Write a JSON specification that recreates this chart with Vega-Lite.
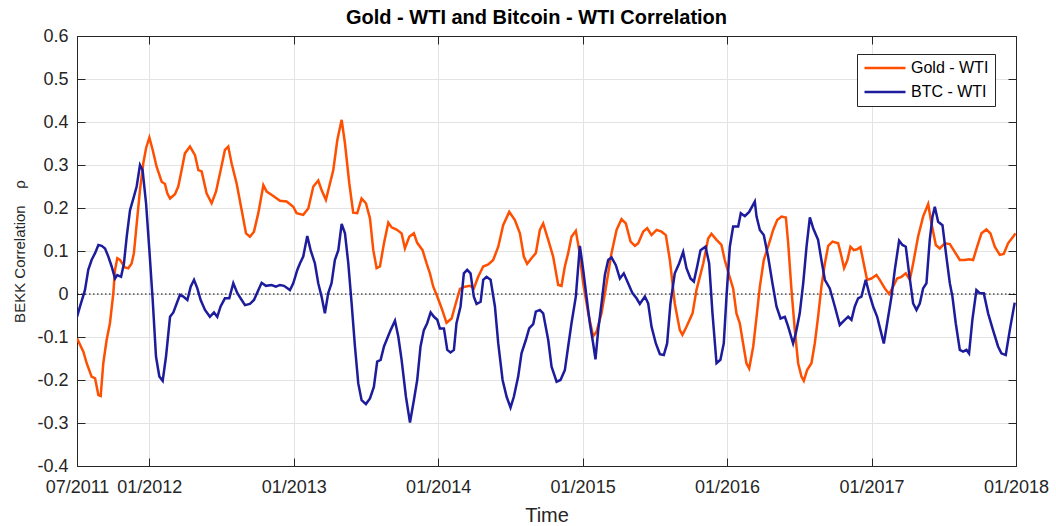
{
"$schema":"https://vega.github.io/schema/vega-lite/v6.json",
"width":939,"height":430,
"autosize":{"type":"none"},
"padding":{"left":77,"top":36,"right":40,"bottom":60},
"background":"white",
"config":{"font":"Liberation Sans","view":{"stroke":null},
 "axis":{"domainColor":"#262626","tickColor":"#262626","labelColor":"#262626","titleColor":"#262626","labelFont":"Liberation Sans","titleFont":"Liberation Sans","gridColor":"#e3e3e3","domainWidth":1,"tickWidth":1}},
"title":{"text":"Gold - WTI and Bitcoin - WTI Correlation","fontSize":20,"fontWeight":"bold","font":"Liberation Sans","color":"black","anchor":"middle","offset":-1,"dx":-10},
"datasets":{
"zero":[{"a":2011.5,"b":2018,"z":0}],
"series":[
{"s":"Gold - WTI","t":2011.500,"v":-0.103},{"s":"Gold - WTI","t":2011.544,"v":-0.134},{"s":"Gold - WTI","t":2011.567,"v":-0.161},{"s":"Gold - WTI","t":2011.601,"v":-0.192},{"s":"Gold - WTI","t":2011.625,"v":-0.196},{"s":"Gold - WTI","t":2011.648,"v":-0.235},{"s":"Gold - WTI","t":2011.664,"v":-0.237},{"s":"Gold - WTI","t":2011.682,"v":-0.161},{"s":"Gold - WTI","t":2011.705,"v":-0.107},{"s":"Gold - WTI","t":2011.728,"v":-0.068},
{"s":"Gold - WTI","t":2011.751,"v":0},{"s":"Gold - WTI","t":2011.763,"v":0.056},{"s":"Gold - WTI","t":2011.779,"v":0.083},{"s":"Gold - WTI","t":2011.798,"v":0.079},{"s":"Gold - WTI","t":2011.832,"v":0.062},{"s":"Gold - WTI","t":2011.855,"v":0.060},{"s":"Gold - WTI","t":2011.878,"v":0.071},{"s":"Gold - WTI","t":2011.894,"v":0.095},{"s":"Gold - WTI","t":2011.918,"v":0.18},{"s":"Gold - WTI","t":2011.936,"v":0.242},
{"s":"Gold - WTI","t":2011.959,"v":0.304},{"s":"Gold - WTI","t":2011.978,"v":0.339},{"s":"Gold - WTI","t":2012.001,"v":0.364},{"s":"Gold - WTI","t":2012.024,"v":0.335},{"s":"Gold - WTI","t":2012.051,"v":0.296},{"s":"Gold - WTI","t":2012.086,"v":0.261},{"s":"Gold - WTI","t":2012.109,"v":0.256},{"s":"Gold - WTI","t":2012.125,"v":0.234},{"s":"Gold - WTI","t":2012.144,"v":0.222},{"s":"Gold - WTI","t":2012.178,"v":0.232},
{"s":"Gold - WTI","t":2012.201,"v":0.25},{"s":"Gold - WTI","t":2012.224,"v":0.288},{"s":"Gold - WTI","t":2012.247,"v":0.327},{"s":"Gold - WTI","t":2012.282,"v":0.343},{"s":"Gold - WTI","t":2012.317,"v":0.323},{"s":"Gold - WTI","t":2012.340,"v":0.288},{"s":"Gold - WTI","t":2012.363,"v":0.285},{"s":"Gold - WTI","t":2012.397,"v":0.234},{"s":"Gold - WTI","t":2012.432,"v":0.211},{"s":"Gold - WTI","t":2012.462,"v":0.238},
{"s":"Gold - WTI","t":2012.490,"v":0.281},{"s":"Gold - WTI","t":2012.524,"v":0.335},{"s":"Gold - WTI","t":2012.547,"v":0.343},{"s":"Gold - WTI","t":2012.570,"v":0.304},{"s":"Gold - WTI","t":2012.605,"v":0.257},{"s":"Gold - WTI","t":2012.640,"v":0.195},{"s":"Gold - WTI","t":2012.670,"v":0.141},{"s":"Gold - WTI","t":2012.697,"v":0.133},{"s":"Gold - WTI","t":2012.725,"v":0.145},{"s":"Gold - WTI","t":2012.755,"v":0.188},
{"s":"Gold - WTI","t":2012.790,"v":0.253},{"s":"Gold - WTI","t":2012.813,"v":0.238},{"s":"Gold - WTI","t":2012.859,"v":0.228},{"s":"Gold - WTI","t":2012.905,"v":0.217},{"s":"Gold - WTI","t":2012.951,"v":0.215},{"s":"Gold - WTI","t":2012.997,"v":0.203},{"s":"Gold - WTI","t":2013.020,"v":0.188},{"s":"Gold - WTI","t":2013.066,"v":0.184},{"s":"Gold - WTI","t":2013.101,"v":0.199},{"s":"Gold - WTI","t":2013.136,"v":0.25},
{"s":"Gold - WTI","t":2013.170,"v":0.264},{"s":"Gold - WTI","t":2013.193,"v":0.242},{"s":"Gold - WTI","t":2013.223,"v":0.219},{"s":"Gold - WTI","t":2013.251,"v":0.257},{"s":"Gold - WTI","t":2013.274,"v":0.288},{"s":"Gold - WTI","t":2013.302,"v":0.358},{"s":"Gold - WTI","t":2013.332,"v":0.405},{"s":"Gold - WTI","t":2013.355,"v":0.350},{"s":"Gold - WTI","t":2013.385,"v":0.257},{"s":"Gold - WTI","t":2013.412,"v":0.189},
{"s":"Gold - WTI","t":2013.440,"v":0.188},{"s":"Gold - WTI","t":2013.470,"v":0.222},{"s":"Gold - WTI","t":2013.500,"v":0.211},{"s":"Gold - WTI","t":2013.528,"v":0.176},{"s":"Gold - WTI","t":2013.551,"v":0.102},{"s":"Gold - WTI","t":2013.574,"v":0.060},{"s":"Gold - WTI","t":2013.597,"v":0.064},{"s":"Gold - WTI","t":2013.625,"v":0.118},{"s":"Gold - WTI","t":2013.655,"v":0.166},{"s":"Gold - WTI","t":2013.678,"v":0.155},
{"s":"Gold - WTI","t":2013.712,"v":0.150},{"s":"Gold - WTI","t":2013.747,"v":0.141},{"s":"Gold - WTI","t":2013.770,"v":0.106},{"s":"Gold - WTI","t":2013.800,"v":0.133},{"s":"Gold - WTI","t":2013.832,"v":0.141},{"s":"Gold - WTI","t":2013.855,"v":0.119},{"s":"Gold - WTI","t":2013.892,"v":0.102},{"s":"Gold - WTI","t":2013.920,"v":0.071},{"s":"Gold - WTI","t":2013.943,"v":0.048},{"s":"Gold - WTI","t":2013.966,"v":0.017},
{"s":"Gold - WTI","t":2013.994,"v":-0.006},{"s":"Gold - WTI","t":2014.024,"v":-0.033},{"s":"Gold - WTI","t":2014.058,"v":-0.067},{"s":"Gold - WTI","t":2014.093,"v":-0.057},{"s":"Gold - WTI","t":2014.116,"v":-0.029},{"s":"Gold - WTI","t":2014.151,"v":0.012},{"s":"Gold - WTI","t":2014.185,"v":0.017},{"s":"Gold - WTI","t":2014.220,"v":0.019},{"s":"Gold - WTI","t":2014.247,"v":0.013},{"s":"Gold - WTI","t":2014.277,"v":0.040},
{"s":"Gold - WTI","t":2014.312,"v":0.064},{"s":"Gold - WTI","t":2014.347,"v":0.069},{"s":"Gold - WTI","t":2014.381,"v":0.079},{"s":"Gold - WTI","t":2014.416,"v":0.110},{"s":"Gold - WTI","t":2014.450,"v":0.160},{"s":"Gold - WTI","t":2014.492,"v":0.191},{"s":"Gold - WTI","t":2014.531,"v":0.172},{"s":"Gold - WTI","t":2014.566,"v":0.141},{"s":"Gold - WTI","t":2014.593,"v":0.087},{"s":"Gold - WTI","t":2014.616,"v":0.070},
{"s":"Gold - WTI","t":2014.646,"v":0.083},{"s":"Gold - WTI","t":2014.676,"v":0.095},{"s":"Gold - WTI","t":2014.704,"v":0.149},{"s":"Gold - WTI","t":2014.727,"v":0.164},{"s":"Gold - WTI","t":2014.762,"v":0.126},{"s":"Gold - WTI","t":2014.796,"v":0.087},{"s":"Gold - WTI","t":2014.831,"v":0.021},{"s":"Gold - WTI","t":2014.854,"v":0.019},{"s":"Gold - WTI","t":2014.877,"v":0.064},{"s":"Gold - WTI","t":2014.900,"v":0.095},
{"s":"Gold - WTI","t":2014.923,"v":0.133},{"s":"Gold - WTI","t":2014.953,"v":0.147},{"s":"Gold - WTI","t":2014.976,"v":0.102},{"s":"Gold - WTI","t":2015.004,"v":0.025},{"s":"Gold - WTI","t":2015.039,"v":-0.045},{"s":"Gold - WTI","t":2015.073,"v":-0.098},{"s":"Gold - WTI","t":2015.096,"v":-0.088},{"s":"Gold - WTI","t":2015.131,"v":-0.045},{"s":"Gold - WTI","t":2015.166,"v":0.025},{"s":"Gold - WTI","t":2015.200,"v":0.095},
{"s":"Gold - WTI","t":2015.235,"v":0.149},{"s":"Gold - WTI","t":2015.269,"v":0.174},{"s":"Gold - WTI","t":2015.299,"v":0.164},{"s":"Gold - WTI","t":2015.332,"v":0.122},{"s":"Gold - WTI","t":2015.362,"v":0.112},{"s":"Gold - WTI","t":2015.385,"v":0.118},{"s":"Gold - WTI","t":2015.419,"v":0.145},{"s":"Gold - WTI","t":2015.447,"v":0.153},{"s":"Gold - WTI","t":2015.477,"v":0.137},{"s":"Gold - WTI","t":2015.512,"v":0.149},
{"s":"Gold - WTI","t":2015.546,"v":0.145},{"s":"Gold - WTI","t":2015.576,"v":0.137},{"s":"Gold - WTI","t":2015.604,"v":0.079},{"s":"Gold - WTI","t":2015.638,"v":-0.022},{"s":"Gold - WTI","t":2015.673,"v":-0.084},{"s":"Gold - WTI","t":2015.691,"v":-0.095},{"s":"Gold - WTI","t":2015.719,"v":-0.076},{"s":"Gold - WTI","t":2015.761,"v":-0.045},{"s":"Gold - WTI","t":2015.788,"v":0.009},{"s":"Gold - WTI","t":2015.835,"v":0.071},
{"s":"Gold - WTI","t":2015.869,"v":0.129},{"s":"Gold - WTI","t":2015.892,"v":0.140},{"s":"Gold - WTI","t":2015.927,"v":0.126},{"s":"Gold - WTI","t":2015.961,"v":0.114},{"s":"Gold - WTI","t":2015.984,"v":0.079},{"s":"Gold - WTI","t":2016.014,"v":0.044},{"s":"Gold - WTI","t":2016.042,"v":0.013},{"s":"Gold - WTI","t":2016.065,"v":-0.045},{"s":"Gold - WTI","t":2016.088,"v":-0.068},{"s":"Gold - WTI","t":2016.111,"v":-0.115},
{"s":"Gold - WTI","t":2016.134,"v":-0.161},{"s":"Gold - WTI","t":2016.153,"v":-0.173},{"s":"Gold - WTI","t":2016.181,"v":-0.122},{"s":"Gold - WTI","t":2016.204,"v":-0.053},{"s":"Gold - WTI","t":2016.227,"v":0.017},{"s":"Gold - WTI","t":2016.254,"v":0.079},{"s":"Gold - WTI","t":2016.291,"v":0.118},{"s":"Gold - WTI","t":2016.319,"v":0.149},{"s":"Gold - WTI","t":2016.347,"v":0.172},{"s":"Gold - WTI","t":2016.377,"v":0.180},
{"s":"Gold - WTI","t":2016.407,"v":0.178},{"s":"Gold - WTI","t":2016.423,"v":0.118},{"s":"Gold - WTI","t":2016.446,"v":0.009},{"s":"Gold - WTI","t":2016.469,"v":-0.084},{"s":"Gold - WTI","t":2016.492,"v":-0.161},{"s":"Gold - WTI","t":2016.515,"v":-0.192},{"s":"Gold - WTI","t":2016.531,"v":-0.202},{"s":"Gold - WTI","t":2016.554,"v":-0.177},{"s":"Gold - WTI","t":2016.584,"v":-0.161},{"s":"Gold - WTI","t":2016.607,"v":-0.115},
{"s":"Gold - WTI","t":2016.630,"v":-0.053},{"s":"Gold - WTI","t":2016.653,"v":0.017},{"s":"Gold - WTI","t":2016.677,"v":0.071},{"s":"Gold - WTI","t":2016.700,"v":0.112},{"s":"Gold - WTI","t":2016.730,"v":0.122},{"s":"Gold - WTI","t":2016.769,"v":0.118},{"s":"Gold - WTI","t":2016.792,"v":0.087},{"s":"Gold - WTI","t":2016.810,"v":0.060},{"s":"Gold - WTI","t":2016.833,"v":0.079},{"s":"Gold - WTI","t":2016.854,"v":0.110},
{"s":"Gold - WTI","t":2016.877,"v":0.102},{"s":"Gold - WTI","t":2016.900,"v":0.104},{"s":"Gold - WTI","t":2016.923,"v":0.109},{"s":"Gold - WTI","t":2016.946,"v":0.071},{"s":"Gold - WTI","t":2016.969,"v":0.033},{"s":"Gold - WTI","t":2016.999,"v":0.036},{"s":"Gold - WTI","t":2017.034,"v":0.044},{"s":"Gold - WTI","t":2017.057,"v":0.033},{"s":"Gold - WTI","t":2017.092,"v":0.013},{"s":"Gold - WTI","t":2017.122,"v":0},
{"s":"Gold - WTI","t":2017.149,"v":0.017},{"s":"Gold - WTI","t":2017.177,"v":0.036},{"s":"Gold - WTI","t":2017.207,"v":0.040},{"s":"Gold - WTI","t":2017.237,"v":0.048},{"s":"Gold - WTI","t":2017.265,"v":0.033},{"s":"Gold - WTI","t":2017.288,"v":0.071},{"s":"Gold - WTI","t":2017.322,"v":0.133},{"s":"Gold - WTI","t":2017.357,"v":0.180},{"s":"Gold - WTI","t":2017.392,"v":0.209},{"s":"Gold - WTI","t":2017.415,"v":0.164},
{"s":"Gold - WTI","t":2017.445,"v":0.114},{"s":"Gold - WTI","t":2017.472,"v":0.106},{"s":"Gold - WTI","t":2017.507,"v":0.118},{"s":"Gold - WTI","t":2017.542,"v":0.116},{"s":"Gold - WTI","t":2017.576,"v":0.098},{"s":"Gold - WTI","t":2017.611,"v":0.079},{"s":"Gold - WTI","t":2017.645,"v":0.079},{"s":"Gold - WTI","t":2017.675,"v":0.081},{"s":"Gold - WTI","t":2017.703,"v":0.079},{"s":"Gold - WTI","t":2017.731,"v":0.110},
{"s":"Gold - WTI","t":2017.761,"v":0.141},{"s":"Gold - WTI","t":2017.795,"v":0.150},{"s":"Gold - WTI","t":2017.823,"v":0.141},{"s":"Gold - WTI","t":2017.853,"v":0.110},{"s":"Gold - WTI","t":2017.888,"v":0.091},{"s":"Gold - WTI","t":2017.915,"v":0.093},{"s":"Gold - WTI","t":2017.945,"v":0.118},{"s":"Gold - WTI","t":2017.980,"v":0.133},{"s":"Gold - WTI","t":2017.996,"v":0.141},
{"s":"BTC - WTI","t":2011.500,"v":-0.053},{"s":"BTC - WTI","t":2011.521,"v":-0.029},{"s":"BTC - WTI","t":2011.555,"v":0.009},{"s":"BTC - WTI","t":2011.578,"v":0.056},{"s":"BTC - WTI","t":2011.601,"v":0.079},{"s":"BTC - WTI","t":2011.625,"v":0.095},{"s":"BTC - WTI","t":2011.648,"v":0.114},{"s":"BTC - WTI","t":2011.671,"v":0.112},{"s":"BTC - WTI","t":2011.694,"v":0.106},{"s":"BTC - WTI","t":2011.717,"v":0.087},
{"s":"BTC - WTI","t":2011.740,"v":0.064},{"s":"BTC - WTI","t":2011.763,"v":0.036},{"s":"BTC - WTI","t":2011.779,"v":0.044},{"s":"BTC - WTI","t":2011.805,"v":0.040},{"s":"BTC - WTI","t":2011.825,"v":0.071},{"s":"BTC - WTI","t":2011.844,"v":0.133},{"s":"BTC - WTI","t":2011.867,"v":0.195},{"s":"BTC - WTI","t":2011.890,"v":0.222},{"s":"BTC - WTI","t":2011.913,"v":0.250},{"s":"BTC - WTI","t":2011.936,"v":0.300},
{"s":"BTC - WTI","t":2011.954,"v":0.288},{"s":"BTC - WTI","t":2011.978,"v":0.211},{"s":"BTC - WTI","t":2012.001,"v":0.102},{"s":"BTC - WTI","t":2012.024,"v":-0.014},{"s":"BTC - WTI","t":2012.047,"v":-0.146},{"s":"BTC - WTI","t":2012.070,"v":-0.192},{"s":"BTC - WTI","t":2012.093,"v":-0.202},{"s":"BTC - WTI","t":2012.116,"v":-0.146},{"s":"BTC - WTI","t":2012.144,"v":-0.053},{"s":"BTC - WTI","t":2012.167,"v":-0.043},
{"s":"BTC - WTI","t":2012.190,"v":-0.022},{"s":"BTC - WTI","t":2012.213,"v":-0.002},{"s":"BTC - WTI","t":2012.236,"v":-0.006},{"s":"BTC - WTI","t":2012.264,"v":-0.014},{"s":"BTC - WTI","t":2012.287,"v":0.017},{"s":"BTC - WTI","t":2012.310,"v":0.033},{"s":"BTC - WTI","t":2012.333,"v":0.013},{"s":"BTC - WTI","t":2012.356,"v":-0.014},{"s":"BTC - WTI","t":2012.386,"v":-0.037},{"s":"BTC - WTI","t":2012.420,"v":-0.053},
{"s":"BTC - WTI","t":2012.448,"v":-0.043},{"s":"BTC - WTI","t":2012.471,"v":-0.053},{"s":"BTC - WTI","t":2012.494,"v":-0.029},{"s":"BTC - WTI","t":2012.524,"v":-0.010},{"s":"BTC - WTI","t":2012.554,"v":-0.010},{"s":"BTC - WTI","t":2012.582,"v":0.025},{"s":"BTC - WTI","t":2012.610,"v":0.002},{"s":"BTC - WTI","t":2012.640,"v":-0.014},{"s":"BTC - WTI","t":2012.663,"v":-0.026},{"s":"BTC - WTI","t":2012.697,"v":-0.023},
{"s":"BTC - WTI","t":2012.725,"v":-0.014},{"s":"BTC - WTI","t":2012.755,"v":0.009},{"s":"BTC - WTI","t":2012.778,"v":0.026},{"s":"BTC - WTI","t":2012.808,"v":0.019},{"s":"BTC - WTI","t":2012.847,"v":0.021},{"s":"BTC - WTI","t":2012.877,"v":0.017},{"s":"BTC - WTI","t":2012.905,"v":0.021},{"s":"BTC - WTI","t":2012.933,"v":0.019},{"s":"BTC - WTI","t":2012.974,"v":0.009},{"s":"BTC - WTI","t":2012.997,"v":0.025},
{"s":"BTC - WTI","t":2013.025,"v":0.056},{"s":"BTC - WTI","t":2013.043,"v":0.071},{"s":"BTC - WTI","t":2013.066,"v":0.087},{"s":"BTC - WTI","t":2013.094,"v":0.135},{"s":"BTC - WTI","t":2013.117,"v":0.102},{"s":"BTC - WTI","t":2013.147,"v":0.071},{"s":"BTC - WTI","t":2013.170,"v":0.025},{"s":"BTC - WTI","t":2013.193,"v":-0.006},{"s":"BTC - WTI","t":2013.216,"v":-0.045},{"s":"BTC - WTI","t":2013.239,"v":0.002},
{"s":"BTC - WTI","t":2013.262,"v":0.025},{"s":"BTC - WTI","t":2013.285,"v":0.079},{"s":"BTC - WTI","t":2013.309,"v":0.102},{"s":"BTC - WTI","t":2013.332,"v":0.163},{"s":"BTC - WTI","t":2013.355,"v":0.141},{"s":"BTC - WTI","t":2013.378,"v":0.071},{"s":"BTC - WTI","t":2013.401,"v":-0.022},{"s":"BTC - WTI","t":2013.424,"v":-0.122},{"s":"BTC - WTI","t":2013.447,"v":-0.208},{"s":"BTC - WTI","t":2013.470,"v":-0.247},
{"s":"BTC - WTI","t":2013.500,"v":-0.256},{"s":"BTC - WTI","t":2013.528,"v":-0.243},{"s":"BTC - WTI","t":2013.555,"v":-0.216},{"s":"BTC - WTI","t":2013.578,"v":-0.157},{"s":"BTC - WTI","t":2013.602,"v":-0.153},{"s":"BTC - WTI","t":2013.625,"v":-0.122},{"s":"BTC - WTI","t":2013.648,"v":-0.103},{"s":"BTC - WTI","t":2013.671,"v":-0.084},{"s":"BTC - WTI","t":2013.701,"v":-0.062},{"s":"BTC - WTI","t":2013.724,"v":-0.099},
{"s":"BTC - WTI","t":2013.747,"v":-0.153},{"s":"BTC - WTI","t":2013.777,"v":-0.239},{"s":"BTC - WTI","t":2013.805,"v":-0.299},{"s":"BTC - WTI","t":2013.832,"v":-0.247},{"s":"BTC - WTI","t":2013.855,"v":-0.200},{"s":"BTC - WTI","t":2013.878,"v":-0.122},{"s":"BTC - WTI","t":2013.901,"v":-0.084},{"s":"BTC - WTI","t":2013.924,"v":-0.068},{"s":"BTC - WTI","t":2013.948,"v":-0.043},{"s":"BTC - WTI","t":2013.971,"v":-0.053},
{"s":"BTC - WTI","t":2013.994,"v":-0.060},{"s":"BTC - WTI","t":2014.012,"v":-0.080},{"s":"BTC - WTI","t":2014.040,"v":-0.080},{"s":"BTC - WTI","t":2014.063,"v":-0.130},{"s":"BTC - WTI","t":2014.086,"v":-0.136},{"s":"BTC - WTI","t":2014.109,"v":-0.130},{"s":"BTC - WTI","t":2014.127,"v":-0.068},{"s":"BTC - WTI","t":2014.155,"v":-0.029},{"s":"BTC - WTI","t":2014.178,"v":0.048},{"s":"BTC - WTI","t":2014.201,"v":0.056},
{"s":"BTC - WTI","t":2014.224,"v":0.048},{"s":"BTC - WTI","t":2014.247,"v":-0.006},{"s":"BTC - WTI","t":2014.266,"v":-0.023},{"s":"BTC - WTI","t":2014.294,"v":-0.018},{"s":"BTC - WTI","t":2014.312,"v":0.033},{"s":"BTC - WTI","t":2014.335,"v":0.040},{"s":"BTC - WTI","t":2014.363,"v":0.033},{"s":"BTC - WTI","t":2014.393,"v":-0.029},{"s":"BTC - WTI","t":2014.416,"v":-0.115},{"s":"BTC - WTI","t":2014.446,"v":-0.200},
{"s":"BTC - WTI","t":2014.474,"v":-0.239},{"s":"BTC - WTI","t":2014.501,"v":-0.264},{"s":"BTC - WTI","t":2014.524,"v":-0.239},{"s":"BTC - WTI","t":2014.554,"v":-0.192},{"s":"BTC - WTI","t":2014.577,"v":-0.138},{"s":"BTC - WTI","t":2014.607,"v":-0.107},{"s":"BTC - WTI","t":2014.630,"v":-0.080},{"s":"BTC - WTI","t":2014.658,"v":-0.070},{"s":"BTC - WTI","t":2014.676,"v":-0.041},{"s":"BTC - WTI","t":2014.704,"v":-0.037},
{"s":"BTC - WTI","t":2014.727,"v":-0.045},{"s":"BTC - WTI","t":2014.762,"v":-0.107},{"s":"BTC - WTI","t":2014.785,"v":-0.169},{"s":"BTC - WTI","t":2014.820,"v":-0.204},{"s":"BTC - WTI","t":2014.847,"v":-0.200},{"s":"BTC - WTI","t":2014.877,"v":-0.177},{"s":"BTC - WTI","t":2014.900,"v":-0.122},{"s":"BTC - WTI","t":2014.923,"v":-0.068},{"s":"BTC - WTI","t":2014.953,"v":-0.006},{"s":"BTC - WTI","t":2014.981,"v":0.112},
{"s":"BTC - WTI","t":2015.004,"v":0.056},{"s":"BTC - WTI","t":2015.027,"v":-0.006},{"s":"BTC - WTI","t":2015.050,"v":-0.068},{"s":"BTC - WTI","t":2015.073,"v":-0.115},{"s":"BTC - WTI","t":2015.089,"v":-0.152},{"s":"BTC - WTI","t":2015.108,"v":-0.084},{"s":"BTC - WTI","t":2015.131,"v":-0.022},{"s":"BTC - WTI","t":2015.154,"v":0.044},{"s":"BTC - WTI","t":2015.177,"v":0.079},{"s":"BTC - WTI","t":2015.200,"v":0.085},
{"s":"BTC - WTI","t":2015.230,"v":0.067},{"s":"BTC - WTI","t":2015.258,"v":0.036},{"s":"BTC - WTI","t":2015.285,"v":0.048},{"s":"BTC - WTI","t":2015.315,"v":0.025},{"s":"BTC - WTI","t":2015.345,"v":0.002},{"s":"BTC - WTI","t":2015.373,"v":-0.010},{"s":"BTC - WTI","t":2015.396,"v":-0.023},{"s":"BTC - WTI","t":2015.431,"v":-0.006},{"s":"BTC - WTI","t":2015.454,"v":-0.022},{"s":"BTC - WTI","t":2015.477,"v":-0.076},
{"s":"BTC - WTI","t":2015.507,"v":-0.115},{"s":"BTC - WTI","t":2015.535,"v":-0.140},{"s":"BTC - WTI","t":2015.562,"v":-0.142},{"s":"BTC - WTI","t":2015.585,"v":-0.115},{"s":"BTC - WTI","t":2015.608,"v":-0.022},{"s":"BTC - WTI","t":2015.638,"v":0.048},{"s":"BTC - WTI","t":2015.668,"v":0.071},{"s":"BTC - WTI","t":2015.696,"v":0.098},{"s":"BTC - WTI","t":2015.719,"v":0.060},{"s":"BTC - WTI","t":2015.747,"v":0.036},
{"s":"BTC - WTI","t":2015.770,"v":0.029},{"s":"BTC - WTI","t":2015.793,"v":0.064},{"s":"BTC - WTI","t":2015.816,"v":0.102},{"s":"BTC - WTI","t":2015.851,"v":0.110},{"s":"BTC - WTI","t":2015.876,"v":0.071},{"s":"BTC - WTI","t":2015.899,"v":-0.045},{"s":"BTC - WTI","t":2015.927,"v":-0.161},{"s":"BTC - WTI","t":2015.954,"v":-0.153},{"s":"BTC - WTI","t":2015.977,"v":-0.115},{"s":"BTC - WTI","t":2015.996,"v":-0.006},
{"s":"BTC - WTI","t":2016.019,"v":0.110},{"s":"BTC - WTI","t":2016.042,"v":0.157},{"s":"BTC - WTI","t":2016.077,"v":0.157},{"s":"BTC - WTI","t":2016.095,"v":0.188},{"s":"BTC - WTI","t":2016.123,"v":0.181},{"s":"BTC - WTI","t":2016.153,"v":0.191},{"s":"BTC - WTI","t":2016.192,"v":0.215},{"s":"BTC - WTI","t":2016.204,"v":0.180},{"s":"BTC - WTI","t":2016.227,"v":0.149},{"s":"BTC - WTI","t":2016.254,"v":0.137},
{"s":"BTC - WTI","t":2016.284,"v":0.087},{"s":"BTC - WTI","t":2016.314,"v":0.025},{"s":"BTC - WTI","t":2016.342,"v":-0.029},{"s":"BTC - WTI","t":2016.370,"v":-0.057},{"s":"BTC - WTI","t":2016.400,"v":-0.053},{"s":"BTC - WTI","t":2016.423,"v":-0.076},{"s":"BTC - WTI","t":2016.457,"v":-0.115},{"s":"BTC - WTI","t":2016.476,"v":-0.091},{"s":"BTC - WTI","t":2016.503,"v":-0.045},{"s":"BTC - WTI","t":2016.527,"v":0.025},
{"s":"BTC - WTI","t":2016.550,"v":0.110},{"s":"BTC - WTI","t":2016.573,"v":0.178},{"s":"BTC - WTI","t":2016.596,"v":0.153},{"s":"BTC - WTI","t":2016.630,"v":0.126},{"s":"BTC - WTI","t":2016.653,"v":0.079},{"s":"BTC - WTI","t":2016.677,"v":0.033},{"s":"BTC - WTI","t":2016.711,"v":0.013},{"s":"BTC - WTI","t":2016.746,"v":-0.029},{"s":"BTC - WTI","t":2016.780,"v":-0.072},{"s":"BTC - WTI","t":2016.815,"v":-0.060},
{"s":"BTC - WTI","t":2016.838,"v":-0.053},{"s":"BTC - WTI","t":2016.861,"v":-0.060},{"s":"BTC - WTI","t":2016.884,"v":-0.029},{"s":"BTC - WTI","t":2016.907,"v":-0.010},{"s":"BTC - WTI","t":2016.930,"v":-0.006},{"s":"BTC - WTI","t":2016.960,"v":0.033},{"s":"BTC - WTI","t":2016.983,"v":0.002},{"s":"BTC - WTI","t":2017.011,"v":-0.029},{"s":"BTC - WTI","t":2017.039,"v":-0.053},{"s":"BTC - WTI","t":2017.062,"v":-0.084},
{"s":"BTC - WTI","t":2017.085,"v":-0.115},{"s":"BTC - WTI","t":2017.108,"v":-0.068},{"s":"BTC - WTI","t":2017.138,"v":-0.006},{"s":"BTC - WTI","t":2017.161,"v":0.056},{"s":"BTC - WTI","t":2017.191,"v":0.124},{"s":"BTC - WTI","t":2017.214,"v":0.114},{"s":"BTC - WTI","t":2017.237,"v":0.110},{"s":"BTC - WTI","t":2017.260,"v":0.048},{"s":"BTC - WTI","t":2017.288,"v":-0.022},{"s":"BTC - WTI","t":2017.311,"v":-0.037},
{"s":"BTC - WTI","t":2017.334,"v":-0.022},{"s":"BTC - WTI","t":2017.357,"v":0.013},{"s":"BTC - WTI","t":2017.380,"v":0.025},{"s":"BTC - WTI","t":2017.403,"v":0.126},{"s":"BTC - WTI","t":2017.422,"v":0.180},{"s":"BTC - WTI","t":2017.438,"v":0.203},{"s":"BTC - WTI","t":2017.461,"v":0.168},{"s":"BTC - WTI","t":2017.491,"v":0.160},{"s":"BTC - WTI","t":2017.518,"v":0.087},{"s":"BTC - WTI","t":2017.542,"v":0.025},
{"s":"BTC - WTI","t":2017.560,"v":-0.006},{"s":"BTC - WTI","t":2017.583,"v":-0.068},{"s":"BTC - WTI","t":2017.611,"v":-0.130},{"s":"BTC - WTI","t":2017.634,"v":-0.134},{"s":"BTC - WTI","t":2017.657,"v":-0.130},{"s":"BTC - WTI","t":2017.675,"v":-0.138},{"s":"BTC - WTI","t":2017.698,"v":-0.060},{"s":"BTC - WTI","t":2017.726,"v":0.009},{"s":"BTC - WTI","t":2017.749,"v":0.002},{"s":"BTC - WTI","t":2017.777,"v":0.002},
{"s":"BTC - WTI","t":2017.807,"v":-0.045},{"s":"BTC - WTI","t":2017.841,"v":-0.084},{"s":"BTC - WTI","t":2017.876,"v":-0.122},{"s":"BTC - WTI","t":2017.899,"v":-0.138},{"s":"BTC - WTI","t":2017.929,"v":-0.142},{"s":"BTC - WTI","t":2017.957,"v":-0.084},{"s":"BTC - WTI","t":2017.991,"v":-0.020}
]},
"layer":[
 {"data":{"name":"zero"},
  "mark":{"type":"rule","color":"#000000","strokeWidth":1,"strokeDash":[1.5,2.5]},
  "encoding":{
   "x":{"field":"a","type":"quantitative","scale":{"domain":[2011.5,2018],"nice":false,"zero":false},
        "axis":{"orient":"top","title":null,"labels":false,"grid":false,"values":[2011.5,2012,2013,2014,2015,2016,2017,2018],"tickSize":-8}},
   "x2":{"field":"b"},
   "y":{"field":"z","type":"quantitative","scale":{"domain":[-0.4,0.6],"nice":false,"zero":false},
        "axis":{"orient":"right","title":null,"labels":false,"grid":false,"values":[-0.4,-0.3,-0.2,-0.1,0,0.1,0.2,0.3,0.4,0.5,0.6],"tickSize":-8}}
  }},
 {"data":{"name":"series"},
  "mark":{"type":"line","strokeWidth":2.5,"clip":true},
  "encoding":{
   "x":{"field":"t","type":"quantitative","scale":{"domain":[2011.5,2018],"nice":false,"zero":false},
        "axis":{"orient":"bottom","title":"Time","titleFontSize":20,"titleFontWeight":"normal","titlePadding":9,
                "values":[2011.5,2012,2013,2014,2015,2016,2017,2018],
                "labelExpr":"datum.value == 2011.5 ? '07/2011' : '01/' + datum.value",
                "labelFontSize":18,"labelOverlap":false,"labelFlush":false,"labelPadding":20,"tickSize":-8,"grid":true}},
   "y":{"field":"v","type":"quantitative","scale":{"domain":[-0.4,0.6],"nice":false,"zero":false},
        "axis":{"orient":"left","title":"BEKK Correlation\u00a0\u00a0\u00a0\u00a0ρ","titleFontSize":15,"titleFontWeight":"normal","titlePadding":9,
                "values":[-0.4,-0.3,-0.2,-0.1,0,0.1,0.2,0.3,0.4,0.5,0.6],
                "labelExpr":"datum.value == 0 ? '0' : (datum.value < 0 ? '-' : '') + format(abs(datum.value), '.1f')",
                "labelFontSize":18,"labelPadding":17,"tickSize":-8,"grid":true}},
   "color":{"field":"s","type":"nominal",
            "scale":{"domain":["Gold - WTI","BTC - WTI"],"range":["#ff4f00","#1c1c9c"]},
            "legend":{"orient":"none","legendX":780,"legendY":18,"title":null,"symbolType":"stroke","symbolSize":1681,"symbolStrokeWidth":2.5,
                      "labelFontSize":16,"labelFont":"Liberation Sans","labelColor":"#000000","labelOffset":4,"clipHeight":16,"rowPadding":8,"padding":6,
                      "strokeColor":"#262626","fillColor":"#ffffff"}}
  }}
],
"resolve":{"scale":{"x":"independent","y":"independent"}}
}
